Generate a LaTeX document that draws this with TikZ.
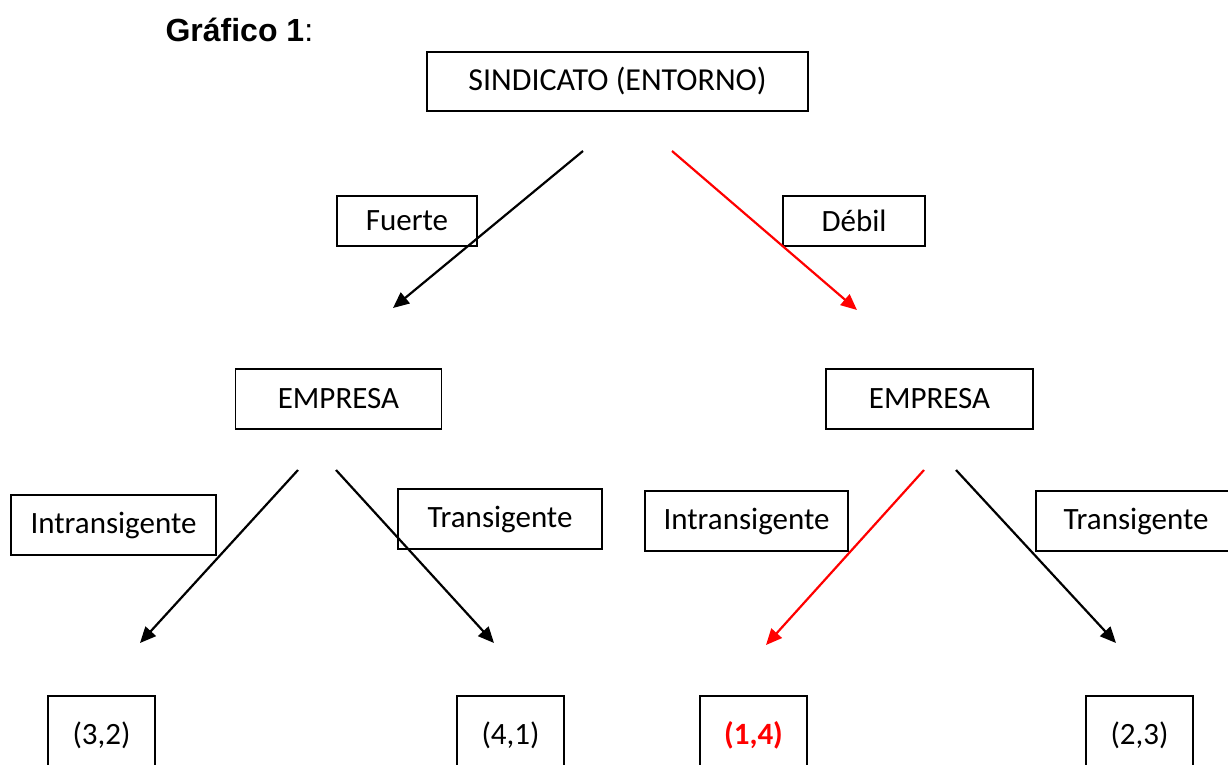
\documentclass[tikz,border=0pt]{standalone}
\usepackage{fontspec}
\setmainfont{Carlito}
\newfontfamily\titlefont{Liberation Sans}
\usetikzlibrary{arrows.meta}

\begin{document}
\begin{tikzpicture}[x=1pt,y=-1pt,
  every node/.style={font=\fontsize{31}{37}\selectfont},
  box/.style={draw, line width=1.6pt, inner sep=0pt},
  payoff/.style={box, minimum width=107pt, minimum height=100pt, text height=22pt, text depth=26pt},
  link/.style={line width=2.2pt, -{Triangle[length=16pt,width=14pt]}},
  pick/.style={link, red}]
\useasboundingbox (0,0) rectangle (1228,764);
\clip (0,0) rectangle (1228,764);

% title
\node[anchor=base west, font=\titlefont\fontsize{32}{36}\selectfont] (titulo) at (162,41) {\textbf{Gráfico 1}:};

% boxes
\node[box, minimum width=381pt, minimum height=59pt] (sind) at (617.5,81.5) {\fontsize{32}{38}\selectfont SINDICATO (ENTORNO)};
\node[box, minimum width=140pt, minimum height=50pt] (fuerte) at (407,221) {Fuerte};
\node[box, minimum width=142pt, minimum height=50pt] (debil) at (854,221) {Débil};
\node[box, minimum width=206pt, minimum height=60pt] (empA) at (338.5,399) {EMPRESA};
\node[box, minimum width=207pt, minimum height=60pt] (empB) at (929.5,399) {EMPRESA};
\node[box, minimum width=205pt, minimum height=60pt] (intA) at (113.5,525) {Intransigente};
\node[box, minimum width=204pt, minimum height=60pt] (traA) at (500,519) {Transigente};
\node[box, minimum width=203pt, minimum height=60pt] (intB) at (746.5,521) {Intransigente};
\node[box, minimum width=200pt, minimum height=60pt] (traB) at (1136,521) {Transigente};

% payoffs (boxes run past the bottom edge)
\node[payoff] (p32) at (101.5,746) {(3,2)};
\node[payoff] (p41) at (510.5,746) {(4,1)};
\node[payoff, text=red, font=\fontsize{31}{37}\selectfont\bfseries] (p14) at (753.5,746) {(1,4)};
\node[payoff] (p23) at (1139.5,746) {(2,3)};

% arrow ends
\coordinate (a1) at (583,151);
\coordinate (b1) at (393,308);
\coordinate (a2) at (672,151);
\coordinate (b2) at (857,310);
\coordinate (a3) at (298,470);
\coordinate (b3) at (140,643);
\coordinate (a4) at (336,470);
\coordinate (b4) at (494,643);
\coordinate (a5) at (924,470);
\coordinate (b5) at (766,645);
\coordinate (a6) at (956,470);
\coordinate (b6) at (1116,643);

\draw[link] (a1) -- (b1);
\draw[pick] (a2) -- (b2);
\draw[link] (a3) -- (b3);
\draw[link] (a4) -- (b4);
\draw[pick] (a5) -- (b5);
\draw[link] (a6) -- (b6);
\end{tikzpicture}
\end{document}
